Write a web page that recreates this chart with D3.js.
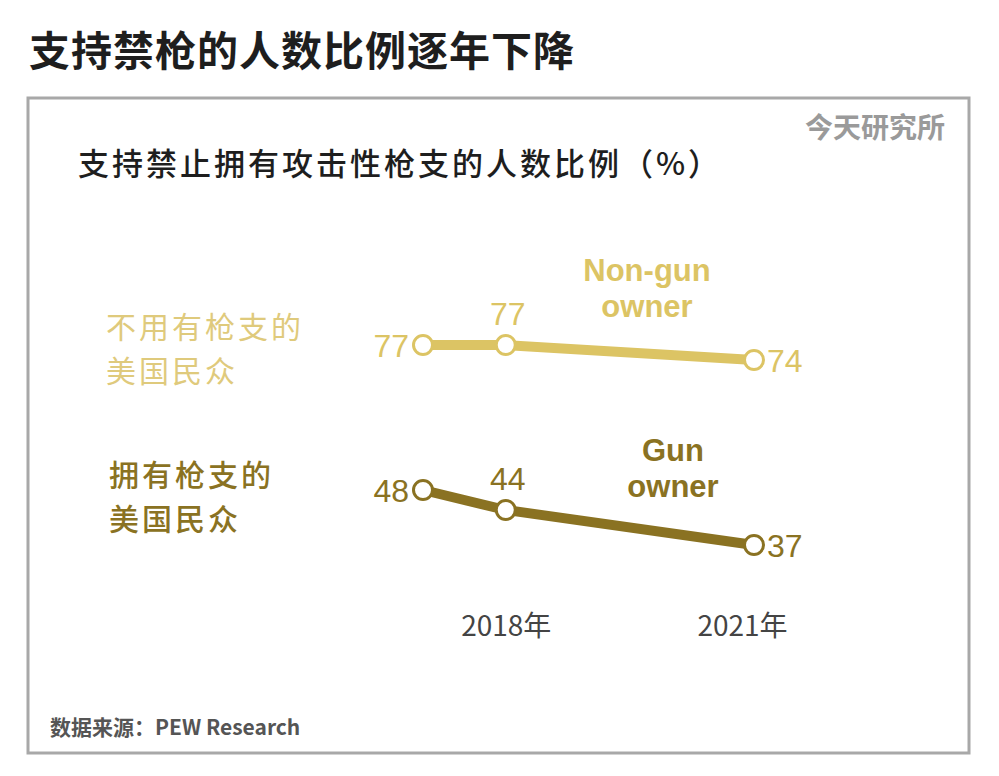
<!DOCTYPE html>
<html><head><meta charset="utf-8">
<script src="https://cdn.jsdelivr.net/npm/d3@7"></script>
<style>body{margin:0;background:#fff}svg{display:block}</style>
</head><body>
<svg id="c" width="999" height="776"></svg>
<script>
const years = [2017, 2018, 2021];
const nonGunValues = [77, 77, 74];
const gunValues = [48, 44, 37];
const tickYears = [2018, 2021];
const tickLabels = ["2018年", "2021年"];
const seriesNames = ["Non-gun owner", "Gun owner"];
const groupLabels = [["不用有枪支的", "美国民众"], ["拥有枪支的", "美国民众"]];

const svg = d3.select("#c");
const font = "'Noto Sans CJK SC', 'Noto Sans', sans-serif";
const lightC = "#dcc464", darkC = "#8a7222";

svg.append("text").attr("x", 29).attr("y", 66).attr("font-family", font).attr("font-weight", 700)
  .attr("font-size", 41).attr("letter-spacing", 1).attr("fill", "#1e1e1e").text("支持禁枪的人数比例逐年下降");
svg.append("rect").attr("x", 28).attr("y", 98).attr("width", 941).attr("height", 655)
  .attr("fill", "#fff").attr("stroke", "#a8a8a8").attr("stroke-width", 3);
svg.append("text").attr("x", 945).attr("y", 138).attr("text-anchor", "end").attr("font-family", font)
  .attr("font-weight", 700).attr("font-size", 28).attr("fill", "#9a9a9a").text("今天研究所");
svg.append("text").attr("x", 78).attr("y", 175).attr("font-family", font).attr("font-size", 31)
  .attr("font-weight", 500).attr("letter-spacing", 3).attr("fill", "#1e1e1e").text("支持禁止拥有攻击性枪支的人数比例（%）");
svg.append("text").attr("x", 50).attr("y", 735).attr("font-family", font).attr("font-weight", 700)
  .attr("font-size", 21).attr("fill", "#555").text("数据来源：PEW Research");

const x = d3.scaleLinear().domain([2017, 2021]).range([423, 754]);
const y = d3.scaleLinear().domain([37, 77]).range([545, 345]);

const axis = d3.axisBottom(x).tickValues(tickYears).tickSize(0).tickPadding(0)
  .tickFormat((d, i) => tickLabels[i]);
const ag = svg.append("g").attr("transform", "translate(0,611)").call(axis);
ag.select(".domain").remove();
ag.selectAll("text").attr("font-family", font).attr("font-size", 28).attr("fill", "#444")
  .attr("dy", "0.9em").attr("dx", (d, i) => i === 1 ? -12 : 0);

const line = d3.line().x((d, i) => x(years[i])).y(d => y(d));
const series = [
  {vals: nonGunValues, color: lightC, labelColor: "#dfca7c"},
  {vals: gunValues, color: darkC, labelColor: darkC}
];
const numFont = "'Liberation Sans', Arial, sans-serif";
series.forEach((s, si) => {
  svg.append("path").datum(s.vals).attr("d", line).attr("fill", "none")
    .attr("stroke", s.color).attr("stroke-width", 10).attr("stroke-linejoin", "round");
  svg.selectAll(null).data(s.vals).enter().append("circle")
    .attr("cx", (d, i) => x(years[i])).attr("cy", d => y(d)).attr("r", 9.5)
    .attr("fill", "#fff").attr("stroke", s.color).attr("stroke-width", 3);
  const t = svg.append("g").attr("font-family", numFont).attr("font-size", 32).attr("fill", s.color);
  t.append("text").attr("x", x(years[0]) - 14).attr("y", y(s.vals[0])).attr("dy", "0.36em")
    .attr("text-anchor", "end").text(s.vals[0]);
  t.append("text").attr("x", x(years[1]) + 2).attr("y", y(s.vals[1]) - 20)
    .attr("text-anchor", "middle").text(s.vals[1]);
  t.append("text").attr("x", x(years[2]) + 13).attr("y", y(s.vals[2])).attr("dy", "0.36em")
    .text(s.vals[2]);
  const words = si === 0 ? ["Non-gun", "owner"] : ["Gun", "owner"];
  const nx = si === 0 ? 647 : 673;
  const ny = si === 0 ? 281 : 461;
  const nt = svg.append("text").attr("text-anchor", "middle").attr("font-family", numFont)
    .attr("font-weight", 700).attr("font-size", 31).attr("fill", s.color);
  words.forEach((w, k) => nt.append("tspan").attr("x", nx).attr("y", ny + k * 36).text(w));
  const gx = si === 0 ? 106 : 109;
  const gy = si === 0 ? 338 : 486;
  const gt = svg.append("text").attr("font-family", font).attr("font-size", 30).attr("letter-spacing", 3)
    .attr("font-weight", si === 1 ? 500 : 400).attr("fill", s.labelColor);
  groupLabels[si].forEach((w, k) => gt.append("tspan").attr("x", gx).attr("y", gy + k * 44).text(w));
});
</script>
</body></html>
